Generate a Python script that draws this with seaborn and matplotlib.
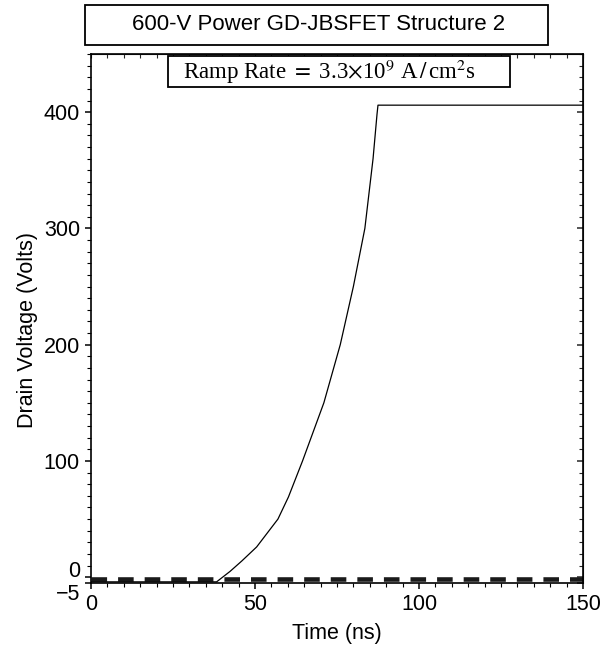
import matplotlib
matplotlib.use("Agg")
import matplotlib.pyplot as plt
import matplotlib.transforms as mtransforms
from matplotlib.patches import Rectangle
from matplotlib.ticker import MultipleLocator, FixedLocator
import seaborn as sns
import pandas as pd

# drain voltage transient
time_ns = [0, 38.3, 42.4, 46.0, 50.5, 57.0, 60.2, 64.5, 71.0, 76.0, 80.0, 83.5, 86.0, 87.2, 87.5, 150]
drain_v = [-4, -4, 5, 14, 26, 50, 69, 100, 150, 200, 250, 300, 360, 398, 406, 406]

# dashed reference line
ref_time = [0, 150]
ref_v = [-1.5, -1.5]

title_text = "600-V Power GD-JBSFET Structure 2"
ramp_text = r"Ramp Rate $=$ 3.3$\times$10$^{9}$ A$\,/\,$cm$^{2}$s"
y_ticks = [-5, 0, 100, 200, 300, 400]
x_ticks = [0, 50, 100, 150]

sns.set_style("ticks")
plt.rcParams["font.family"] = ["Liberation Sans", "DejaVu Sans"]
plt.rcParams["mathtext.fontset"] = "stix"
plt.rcParams["text.color"] = "black"
plt.rcParams["axes.labelcolor"] = "black"

fig = plt.figure(figsize=(6.01, 6.46), dpi=100)
ax = fig.add_axes([0.1514, 0.0975, 0.970 - 0.1514, 0.9164 - 0.0975])

df = pd.DataFrame({"t": time_ns, "v": drain_v})
ref = pd.DataFrame({"t": ref_time, "v": ref_v})

sns.lineplot(data=ref, x="t", y="v", ax=ax, color="#1a1a1a", linewidth=3.3,
             dashes=False, estimator=None, sort=False)
ax.lines[-1].set_dashes((3.4, 2.4))
ax.lines[-1].set_dash_capstyle("butt")
sns.lineplot(data=df, x="t", y="v", ax=ax, color="black", linewidth=0.9,
             estimator=None, sort=False)

ax.set_xlim(0, 150)
ax.set_ylim(-5, 450)
ax.xaxis.set_major_locator(FixedLocator(x_ticks))
ax.xaxis.set_minor_locator(MultipleLocator(5))
ax.yaxis.set_major_locator(FixedLocator(y_ticks))
ax.yaxis.set_minor_locator(MultipleLocator(10))
ax.set_xticklabels([str(x) for x in x_ticks])
ax.set_yticklabels(["\u22125" if y < 0 else str(y) for y in y_ticks])

for sp in ax.spines.values():
    sp.set_visible(True)
    sp.set_linewidth(1.2)
    sp.set_color("black")

ax.tick_params(which="both", direction="out", colors="black", labelcolor="black",
               labelsize=15.5, top=False, right=False)
ax.tick_params(which="major", length=4, width=1.1)
ax.tick_params(which="minor", length=3, width=0.8)
ax.tick_params(axis="x", pad=4)
ax.tick_params(axis="y", pad=4)

# top / right ticks point inward
top = ax.secondary_xaxis("top")
top.xaxis.set_major_locator(FixedLocator(x_ticks))
top.xaxis.set_minor_locator(MultipleLocator(5))
top.tick_params(which="both", direction="in", labeltop=False, length=3, width=0.8)
right = ax.secondary_yaxis("right")
right.yaxis.set_major_locator(FixedLocator(y_ticks))
right.yaxis.set_minor_locator(MultipleLocator(10))
right.tick_params(which="both", direction="in", labelright=False, length=3, width=0.8)
right.tick_params(which="major", length=4, width=1.1)

# spread the 0 and -5 labels apart like the original
labels = ax.get_yticklabels()
labels[0].set_transform(labels[0].get_transform() +
                        mtransforms.ScaledTranslation(0, -9 / 100, fig.dpi_scale_trans))
labels[1].set_transform(labels[1].get_transform() +
                        mtransforms.ScaledTranslation(0, 8 / 100, fig.dpi_scale_trans))

ax.set_xlabel("Time (ns)", fontsize=15.5, labelpad=6)
ax.set_ylabel("Drain Voltage (Volts)", fontsize=15.5, labelpad=4)
ax.yaxis.label.set_y(0.478)

# title box
fig.patches.append(Rectangle((85 / 601, 1 - 45 / 646), (548 - 85) / 601, 40 / 646,
                             transform=fig.transFigure, fc="white", ec="black", lw=1.3))
fig.text(318.5 / 601, 1 - 25 / 646, title_text, ha="center", va="center", fontsize=16)

# ramp rate box
ax.add_patch(Rectangle((0.1565, 0.9376), 0.8516 - 0.1565, 0.9962 - 0.9376,
                       transform=ax.transAxes, fc="white", ec="black", lw=1.3, zorder=5))
ax.text(0.4848, 0.966, ramp_text, transform=ax.transAxes, ha="center", va="center",
        fontsize=16.5, family="Liberation Serif", zorder=6)

fig.savefig("out.png", dpi=100)
